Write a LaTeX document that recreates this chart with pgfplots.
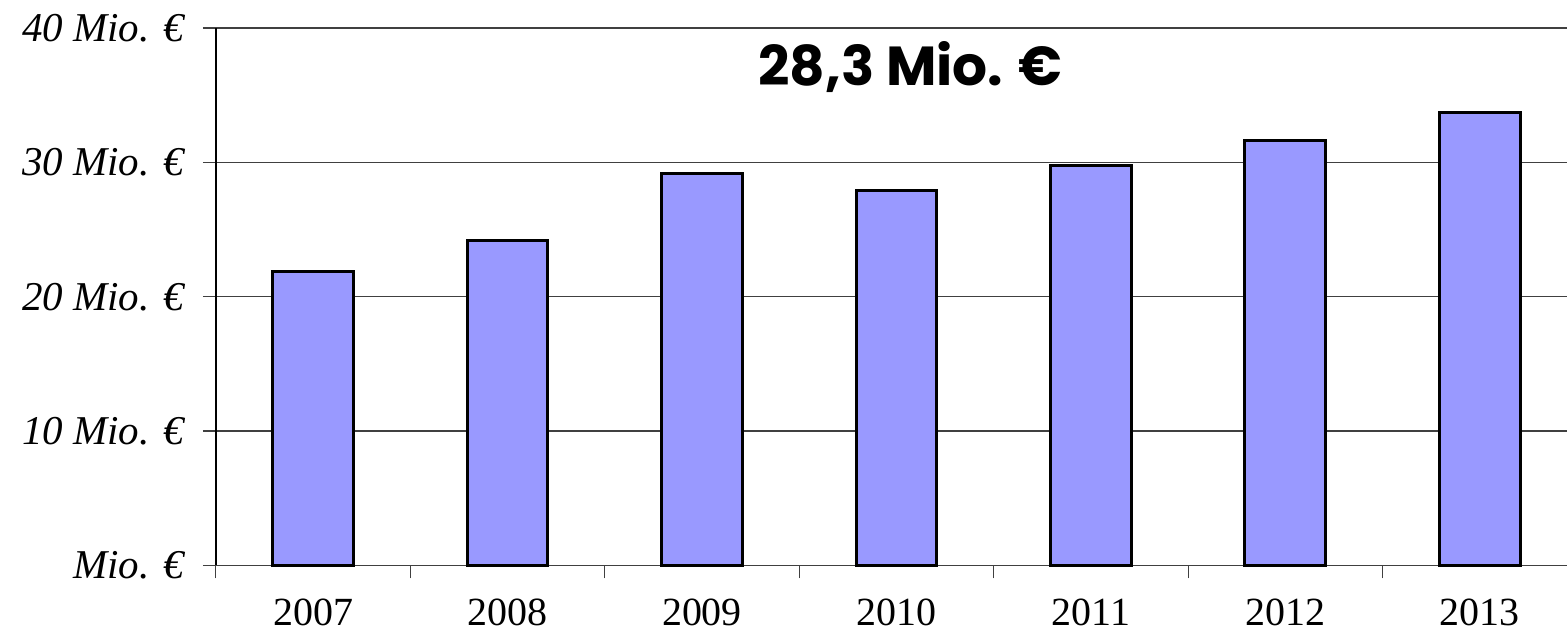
\documentclass[border=0pt]{standalone}
\usepackage{pgfplots}
\pgfplotsset{compat=1.18}
\usepackage{fontspec}
\setmainfont{Liberation Serif}
\newfontfamily\titlefont{Poppins}
\definecolor{barfill}{HTML}{9999FF}
\definecolor{gridc}{HTML}{404040}
\begin{document}
\begin{tikzpicture}
\begin{axis}[
  scale only axis, width=676.5pt, height=269pt,
  xmin=-0.5, xmax=6.45, ymin=0, ymax=40,
  axis lines*=left,
  x axis line style={gridc, line width=0.6pt},
  y axis line style={black, line width=0.8pt},
  tick align=outside,
  major tick length=6.5pt,
  tick style={draw=gridc, line width=0.6pt},
  ytick={0,10,20,30,40},
  yticklabels={Mio. €,10 Mio. €,20 Mio. €,30 Mio. €,40 Mio. €},
  yticklabel style={font=\fontsize{20.5}{24}\selectfont\itshape, xshift=-6pt},
  ymajorgrids, grid style={gridc, line width=0.6pt},
  xtick={-0.5,0.5,1.5,2.5,3.5,4.5,5.5},
  xticklabels={2007,2008,2009,2010,2011,2012,2013},
  xticklabel style={font=\fontsize{20}{24}\selectfont, xshift=48.67pt, yshift=-6.5pt},
  clip=false,
]
\addplot[ybar, bar width=0.416, fill=barfill, draw=black, line width=1.5pt]
  coordinates {(0,21.9) (1,24.2) (2,29.2) (3,27.9) (4,29.75) (5,31.6) (6,33.7)};
\node[font=\titlefont\bfseries\fontsize{27.5}{30}\selectfont] at (rel axis cs:0.514,0.927) {28,3 Mio. €};
\end{axis}
\path (-108pt,0) -- (-108pt,283pt);
\end{tikzpicture}
\end{document}
